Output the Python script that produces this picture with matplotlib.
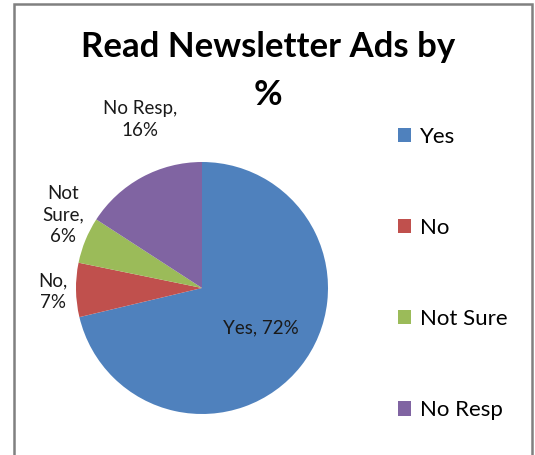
import matplotlib
matplotlib.use("Agg")
import matplotlib.pyplot as plt
from matplotlib.patches import Rectangle

categories = ["Yes", "No", "Not Sure", "No Resp"]
values = [72, 7, 6, 16]
colors = ["#4F81BD", "#C0504D", "#9BBB59", "#8064A2"]
title_lines = ["Read Newsletter Ads by", "%"]

plt.rcParams['font.family'] = ['Lato', 'DejaVu Sans']

W, H = 535, 455
fig = plt.figure(figsize=(W / 100, H / 100), dpi=100)
fig.patch.set_facecolor("white")

# outer frame
fig.patches.append(Rectangle((14 / W, -0.05), (532 - 14) / W, 1.05 - 4 / H,
                             transform=fig.transFigure, fill=False,
                             edgecolor="#808080", linewidth=1.8))

cx, cy, r = 202, 288, 126
ax = fig.add_axes([(cx - r) / W, (H - cy - r) / H, 2 * r / W, 2 * r / H])
wedges, _ = ax.pie(values, colors=colors, startangle=90, counterclock=False,
                   radius=1, wedgeprops=dict(linewidth=0))
ax.set_xlim(-1, 1)
ax.set_ylim(-1, 1)
ax.set_aspect("equal")
ax.axis("off")

label_pos = {
    "Yes": (0.47, -0.32),
    "No": (-1.18, -0.03),
    "Not Sure": (-1.10, 0.58),
    "No Resp": (-0.49, 1.34),
}
label_text = {
    "Yes": "Yes, {}%",
    "No": "No,\n{}%",
    "Not Sure": "Not\nSure,\n{}%",
    "No Resp": "No Resp,\n{}%",
}
for cat, v in zip(categories, values):
    x, y = label_pos[cat]
    ax.text(x, y, label_text[cat].format(v), ha="center", va="center",
            fontsize=13.5, color="#1a1a1a", linespacing=1.35, clip_on=False)

fig.text(268 / W, 1 - 47 / H, title_lines[0], ha="center", va="center",
         fontsize=25, fontweight="bold", color="black")
fig.text(268 / W, 1 - 95 / H, title_lines[1], ha="center", va="center",
         fontsize=25, fontweight="bold", color="black")

leg = fig.legend(wedges, categories, loc="upper left",
                 bbox_to_anchor=(398 / W, 1 - 127 / H), frameon=False,
                 fontsize=16, handlelength=0.6, handleheight=0.6,
                 handletextpad=0.4, labelspacing=3.2, borderpad=0,
                 borderaxespad=0)

fig.savefig("out.png", dpi=100)
